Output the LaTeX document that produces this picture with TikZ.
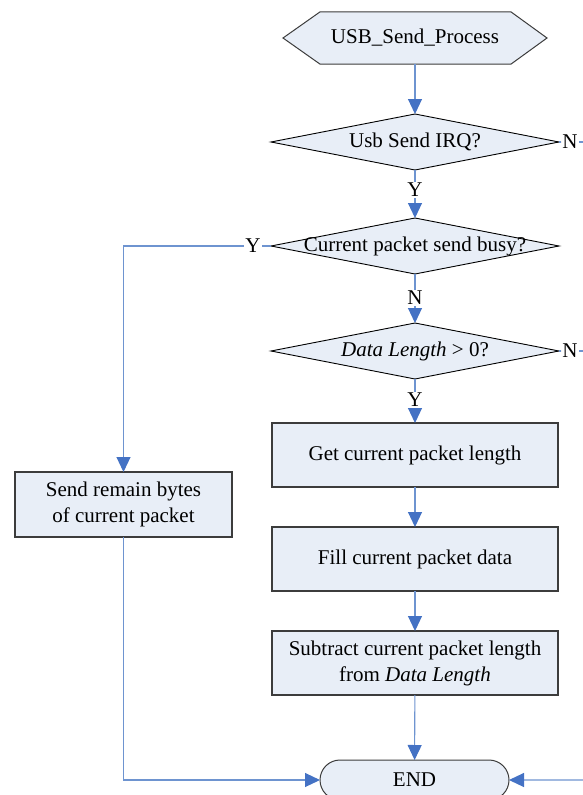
\documentclass[tikz,border=0pt]{standalone}
\usepackage{fontspec}
\setmainfont{Liberation Serif}
\usetikzlibrary{shapes.geometric,shapes.misc,arrows.meta}
\pgfdeclarelayer{bg}
\pgfsetlayers{bg,main}
\definecolor{boxfill}{RGB}{232,238,247}
\definecolor{flow}{RGB}{110,148,208}
\definecolor{tipblue}{RGB}{68,114,196}
\definecolor{edge}{RGB}{60,60,60}

\begin{document}
\begin{tikzpicture}[x=1bp,y=-1bp,
  font=\fontsize{21bp}{26bp}\selectfont,
  every node/.style={outer sep=0pt},
  procbox/.style={draw=edge, line width=1.2bp, fill=boxfill,
    minimum width=286bp, minimum height=64bp, align=center, inner sep=0pt},
  sidebox/.style={procbox, minimum width=217bp, minimum height=65bp},
  decision/.style={diamond, draw=black, line width=0.9bp, fill=boxfill,
    minimum width=288bp, minimum height=56bp, inner sep=0pt},
  terminal/.style={rounded rectangle, draw=edge, line width=1bp, fill=boxfill,
    minimum width=189bp, minimum height=40bp, inner sep=0pt},
  lbl/.style={inner sep=1.5bp},
  flowline/.style={draw=flow, line width=1.1bp},
  arr/.style={flowline, -{Triangle[width=14bp,length=15bp,color=tipblue]}}
]
\useasboundingbox (0,0) rectangle (583,795);

% start block (hexagon drawn behind its text)
\node[minimum width=264bp, minimum height=52bp, inner sep=0pt] (start) at (415,38) {USB\_Send\_Process};
\begin{pgfonlayer}{bg}
  \draw[draw=edge, line width=1bp, fill=boxfill]
    (start.west) -- ([xshift=37]start.north west) -- ([xshift=-36]start.north east)
    -- (start.east) -- ([xshift=-36]start.south east) -- ([xshift=37]start.south west) -- cycle;
\end{pgfonlayer}

% decisions
\node[decision] (d1) at (415,142) {\makebox[0pt]{Usb Send IRQ?}};
\node[decision] (d2) at (415,246) {\makebox[0pt]{Current packet send busy?}};
\node[decision] (d3) at (415,351) {\makebox[0pt]{\textit{Data Length} > 0?}};

% process boxes
\node[procbox] (b1) at (415,455) {Get current packet length};
\node[procbox] (b2) at (415,559) {Fill current packet data};
\node[procbox] (b3) at (415,663) {Subtract current packet length\\from \textit{Data Length}};
\node[sidebox] (rem) at (123.5,504.5) {Send remain bytes\\of current packet};

% end
\node[terminal] (end) at (414.5,780) {END};

% branch labels
\node[lbl] (y1) at (415,190) {Y};
\node[lbl] (n1) at (570,142) {N};
\node[lbl] (yl) at (253,246) {Y};
\node[lbl] (n2) at (415,298) {N};
\node[lbl] (n3) at (570,351) {N};
\node[lbl] (y3) at (415,400) {Y};
\coordinate (n1out) at (595,142);
\coordinate (n3out) at (595,351);
\coordinate (endin) at (600,780);

% connectors
\draw[arr] (start.south) -- (d1);
\draw[flowline] (d1) -- (y1);
\draw[arr] (y1) -- (d2);
\draw[flowline] (d1) -- (n1);
\draw[flowline] (n1) -- (n1out);
\draw[flowline] (d2) -- (yl);
\draw[arr] (yl) -| (rem);
\draw[flowline] (d2) -- (n2);
\draw[arr] (n2) -- (d3);
\draw[flowline] (d3) -- (n3);
\draw[flowline] (n3) -- (n3out);
\draw[flowline] (d3) -- (y3);
\draw[arr] (y3) -- (b1);
\draw[arr] (b1) -- (b2);
\draw[arr] (b2) -- (b3);
\draw[arr] (b3) -- (end);
\draw[arr] (rem) |- (end);
\draw[arr] (endin) -- (end);
\end{tikzpicture}
\end{document}
